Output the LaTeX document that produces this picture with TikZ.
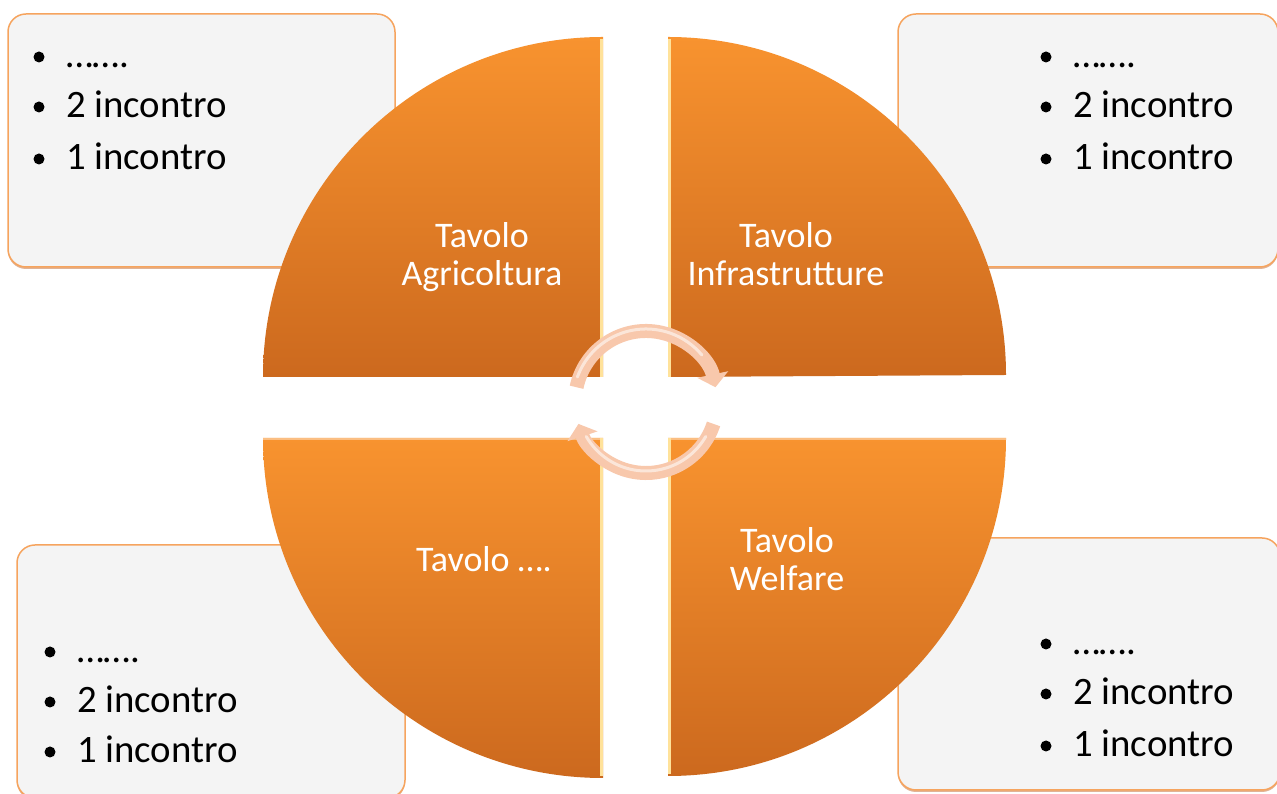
\documentclass[tikz,border=0pt]{standalone}
\usepackage{fontspec}
\setmainfont{Carlito}
\usetikzlibrary{arrows.meta,calc,shadows}
\definecolor{qtop}{HTML}{F8932F}
\definecolor{qbot}{HTML}{CC691E}
\definecolor{boxfill}{HTML}{F4F4F4}
\definecolor{boxline}{HTML}{F6A45E}
\definecolor{boxshadow}{HTML}{D9A07C}
\definecolor{edgehi}{HTML}{FFE29A}
\definecolor{arrowc}{HTML}{F8C8AC}
\begin{document}
\begin{tikzpicture}[x=1pt,y=1pt,
  infobox/.style={draw=boxline, line width=1.5pt, fill=boxfill, rounded corners=18pt,
    drop shadow={shadow xshift=0pt, shadow yshift=-2pt, fill=boxshadow, opacity=0.8}},
  quarter/.style={top color=qtop, bottom color=qbot, draw=none},
  listtext/.style={anchor=base west, inner sep=0pt, font=\fontsize{38.8}{46}\selectfont, text=black},
  bulletdot/.style={fill=black, draw=none},
  label/.style={align=center, inner sep=0pt, text=white, font=\fontsize{36}{38.5}\selectfont},
  cyc/.style={draw=arrowc, line width=14pt, -{Triangle[length=13pt,width=31pt]}},
  cychi/.style={draw=white, line width=3pt, opacity=0.55, line cap=round},
  edgeline/.style={draw=edgehi, line width=2.5pt}
]
\useasboundingbox (0,0) rectangle (1277,794);
\fill[white] (0,0) rectangle (1277,794);
\begin{scope}
\clip (0,0) rectangle (1277,794);
% boxes
\path[infobox] (8,527) rectangle (395,780);
\path[infobox] (898,527) rectangle (1278,780);
\path[infobox] (17,-4) rectangle (405,249);
\path[infobox] (898,4) rectangle (1280,256);
\end{scope}
% quarters
\coordinate (ctl) at (603,417);
\coordinate (ctr) at (668,417);
\coordinate (cbl) at (603,356);
\coordinate (cbr) at (668,356);
\path[quarter] (ctl) -- ++(-340,0) arc[start angle=180,end angle=90,radius=340] -- cycle;
\path[quarter] (ctr) -- ++(0,340) arc[start angle=90,end angle=0,radius=338] -- cycle;
\path[quarter] (cbl) -- ++(-340,0) arc[start angle=180,end angle=270,radius=340] -- cycle;
\path[quarter] (cbr) -- ++(338,0) arc[start angle=0,end angle=-90,radius=338] -- cycle;
% light bevel edges
\draw[edgeline] ($(ctl)+(-1.5,0)$) -- ++(0,338);
\draw[edgeline] ($(ctr)+(1.5,0)$) -- ++(0,338);
\draw[edgeline] ($(cbl)+(-1.5,0)$) -- ++(0,-338);
\draw[edgeline] ($(cbr)+(1.5,0)$) -- ++(0,-336);
\draw[draw=qtop!60!white, line width=2pt] ($(cbl)+(-340,-1)$) -- ($(cbl)+(-3,-1)$);
\draw[draw=qtop!60!white, line width=2pt] ($(cbr)+(3,-1)$) -- ($(cbr)+(338,-1)$);
% labels (base anchor = baseline of last line)
\node[label, anchor=base] (lagr) at (482,508) {Tavolo\\Agricoltura};
\node[label, anchor=base] (linf) at (786,508) {Tavolo\\Infrastrutture};
\node[label, anchor=base] (ldots) at (484,222) {Tavolo ….};
\node[label, anchor=base] (lwel) at (787,203) {Tavolo\\Welfare};
% lists
\node[listtext] (tla) at (66,726) {…….};
\node[listtext] (tlb) at (66,676) {2 incontro};
\node[listtext] (tlc) at (66,624) {1 incontro};
\node[listtext] (tra) at (1073,726) {…….};
\node[listtext] (trb) at (1073,676) {2 incontro};
\node[listtext] (trc) at (1073,624) {1 incontro};
\node[listtext] (bla) at (77,131) {…….};
\node[listtext] (blb) at (77,81) {2 incontro};
\node[listtext] (blc) at (77,31) {1 incontro};
\node[listtext] (bra) at (1073,139) {…….};
\node[listtext] (brb) at (1073,89) {2 incontro};
\node[listtext] (brc) at (1073,37) {1 incontro};
\foreach \n in {tla,tlb,tlc,tra,trb,trc,bla,blb,blc,bra,brb,brc}
  \fill[bulletdot] ($(\n.base west)+(-27,11)$) circle (5.5);
% cycle arrows
\coordinate (cc) at (646,392);
\draw[cyc] ($(cc)+(168:71)$) arc[start angle=168,end angle=12,radius=71];
\draw[cyc] ($(cc)+(-18:71)$) arc[start angle=-18,end angle=-162,radius=71];
\draw[cychi] ($(cc)+(160:73)$) arc[start angle=160,end angle=40,radius=73];
\draw[cychi] ($(cc)+(-30:69)$) arc[start angle=-30,end angle=-150,radius=69];
\end{tikzpicture}
\end{document}
